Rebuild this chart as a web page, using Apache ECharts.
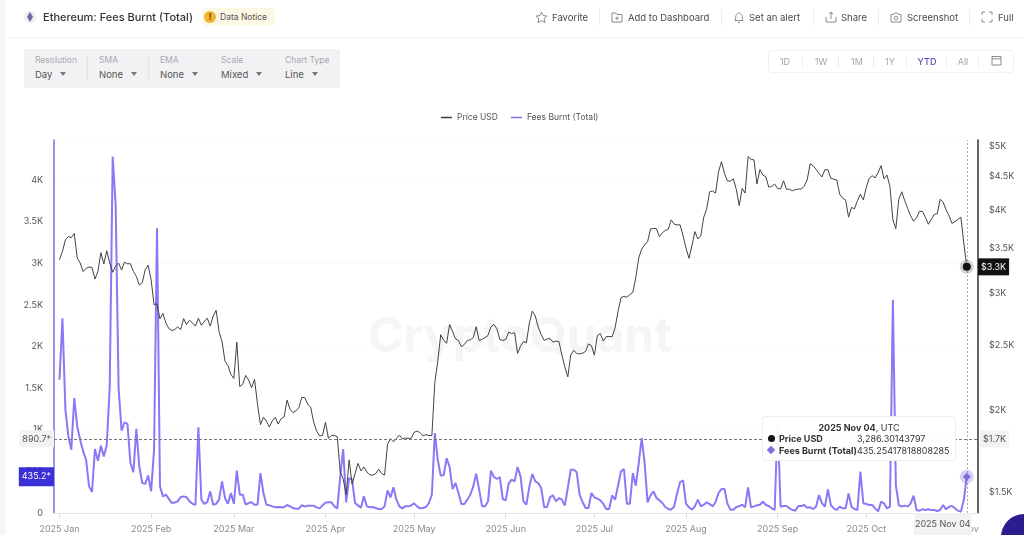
<!DOCTYPE html>
<html>
<head>
<meta charset="utf-8">
<title>Ethereum: Fees Burnt (Total)</title>
<script src="https://cdn.jsdelivr.net/npm/echarts@6/dist/echarts.min.js"></script>
<style>
html, body { margin: 0; padding: 0; background: #fff; overflow: hidden; }
body { width: 1024px; height: 535px; position: relative; font-family: Inter, sans-serif; color: #444; }
#chart { position: absolute; left: 0; top: 0; width: 1024px; height: 535px; }
.abs { position: absolute; white-space: nowrap; }
.hd { top: 11px; font-size: 9.5px; line-height: 13px; color: #4a4a4a; }
.sep { position: absolute; width: 1px; background: #ececf0; }
.lbl { top: 55px; font-size: 8.5px; line-height: 11px; color: #a9a9ae; }
.val { top: 68px; font-size: 9.5px; line-height: 13px; color: #555; }
.caret { position: absolute; top: 72px; width: 0; height: 0; border-left: 3.5px solid transparent; border-right: 3.5px solid transparent; border-top: 4px solid #777; }
.rng { top: 56px; width: 30px; text-align: center; font-size: 9px; line-height: 11px; color: #a5a5aa; }
svg.ic { position: absolute; fill: none; stroke: #8a8a8f; stroke-width: 1; }
</style>
</head>
<body>
<div id="chart"></div>

<div class="abs" style="left:0;top:0;width:6px;height:535px;background:#f6f6f8"></div>
<div class="abs" style="left:8px;top:37px;width:1016px;height:1px;background:#f1f1f3"></div>

<div class="abs" style="left:24px;top:11px;width:12px;height:12px;border-radius:6px;background:#eeeef6"></div>
<svg class="ic" style="left:27px;top:12px;stroke:none;fill:#6f6aa8" width="6" height="10" viewBox="0 0 6 10"><path d="M3 0L6 5L3 10L0 5Z"/></svg>
<div class="abs" style="left:43px;top:10px;font-size:11px;line-height:15px;font-weight:500;color:#333">Ethereum: Fees Burnt (Total)</div>
<div class="abs" style="left:202px;top:8px;width:73px;height:18px;border-radius:5px;background:#fdf7e6"></div>
<div class="abs" style="left:204px;top:11px;width:12px;height:12px;border-radius:6px;background:#f2b431;font-size:9px;line-height:12px;text-align:center;font-weight:700;color:#6b4a00">!</div>
<div class="abs" style="left:220px;top:11px;font-size:8.5px;line-height:12px;color:#555">Data Notice</div>

<svg class="ic" style="left:535px;top:11px" width="13" height="13" viewBox="0 0 13 13"><path d="M6.5 1L8.1 4.6L12 5L9.1 7.6L10 11.6L6.5 9.6L3 11.6L3.9 7.6L1 5L4.9 4.6Z"/></svg>
<div class="abs hd" style="left:552px">Favorite</div>
<div class="sep" style="left:599px;top:9px;height:16px"></div>
<svg class="ic" style="left:611px;top:12px" width="12" height="11" viewBox="0 0 12 11"><path d="M1 1H5L6 2.5H11V10H1ZM6 4.5V8M4.2 6.2H7.8"/></svg>
<div class="abs hd" style="left:628px">Add to Dashboard</div>
<div class="sep" style="left:721px;top:9px;height:16px"></div>
<svg class="ic" style="left:733px;top:11px" width="12" height="13" viewBox="0 0 12 13"><path d="M2 9.5C3 8 2.5 6 3 4.5C3.5 3 5 2 6 2C7 2 8.5 3 9 4.5C9.500 6 9 8 10 9.500ZM5 11.500H7"/></svg>
<div class="abs hd" style="left:749px">Set an alert</div>
<div class="sep" style="left:813px;top:9px;height:16px"></div>
<svg class="ic" style="left:825px;top:11px" width="12" height="12" viewBox="0 0 12 12"><path d="M1 6V11H11V6M6 8V1M4 3L6 1L8 3"/></svg>
<div class="abs hd" style="left:841px">Share</div>
<div class="sep" style="left:878px;top:9px;height:16px"></div>
<svg class="ic" style="left:890px;top:12px" width="12" height="11" viewBox="0 0 12 11"><path d="M1 2.500H3.500L4.500 1H7.500L8.500 2.500H11V10H1Z"/><circle cx="6" cy="6" r="1.800"/></svg>
<div class="abs hd" style="left:907px">Screenshot</div>
<div class="sep" style="left:969px;top:9px;height:16px"></div>
<svg class="ic" style="left:981px;top:11px" width="12" height="12" viewBox="0 0 12 12"><path d="M1 4V1H4M8 1H11V4M11 8V11H8M4 11H1V8"/></svg>
<div class="abs hd" style="left:998px">Full</div>

<div class="abs" style="left:24px;top:49px;width:316px;height:39px;background:#f2f2f5"></div>
<div class="sep" style="left:87px;top:56px;height:24px;background:#e3e3e8"></div>
<div class="sep" style="left:148px;top:56px;height:24px;background:#e3e3e8"></div>
<div class="abs lbl" style="left:35px">Resolution</div><div class="abs val" style="left:35px">Day</div><div class="caret" style="left:60px"></div>
<div class="abs lbl" style="left:99px">SMA</div><div class="abs val" style="left:99px">None</div><div class="caret" style="left:131px"></div>
<div class="abs lbl" style="left:160px">EMA</div><div class="abs val" style="left:160px">None</div><div class="caret" style="left:192px"></div>
<div class="abs lbl" style="left:221px">Scale</div><div class="abs val" style="left:221px">Mixed</div><div class="caret" style="left:256px"></div>
<div class="abs lbl" style="left:285px">Chart Type</div><div class="abs val" style="left:285px">Line</div><div class="caret" style="left:312px"></div>

<div class="abs" style="left:768px;top:50px;width:244px;height:21px;border:1px solid #f0f0f3;border-radius:4px"></div>
<div class="abs rng" style="left:770px">1D</div>
<div class="abs rng" style="left:806px">1W</div>
<div class="abs rng" style="left:842px">1M</div>
<div class="abs rng" style="left:875px">1Y</div>
<div class="abs rng" style="left:912px;color:#5b4fc4;font-weight:500">YTD</div>
<div class="abs rng" style="left:948px">All</div>
<div class="sep" style="left:802px;top:56px;height:11px"></div>
<div class="sep" style="left:838px;top:56px;height:11px"></div>
<div class="sep" style="left:873px;top:56px;height:11px"></div>
<div class="sep" style="left:906px;top:56px;height:11px"></div>
<div class="sep" style="left:946px;top:56px;height:11px"></div>
<div class="sep" style="left:978px;top:56px;height:11px"></div>
<svg class="ic" style="left:991px;top:55px" width="11" height="11" viewBox="0 0 11 11"><path d="M1 1.500H10V10H1ZM1 3.800H10"/></svg>

<div class="abs" style="left:1001px;top:514px;width:46px;height:46px;border-radius:23px;background:#2c1d8f"></div>

<script>
// Daily values, one per day starting 2025-01-01
const startDate = Date.UTC(2025, 0, 1);
const DAY = 86400000;

const priceValues = [
    3368,3467,3610,3650,3638,3690,3388,3330,3232,3268,
    3285,3278,3150,3235,3452,3320,3475,3330,3225,3295,
    3330,3250,3340,3322,3322,3235,3180,3085,3108,3254,
    3306,3143,2880,2890,2743,2795,2705,2652,2635,2643,
    2668,2643,2746,2690,2730,2705,2675,2750,2683,2720,
    2750,2675,2770,2826,2623,2536,2368,2332,2262,2230,
    2530,2168,2186,2254,2218,2160,2223,2040,1900,1949,
    1924,1885,1924,1949,1904,1940,1951,2069,2004,1981,
    1993,2016,2090,2086,2040,2017,1917,1858,1827,1830,
    1916,1812,1830,1830,1822,1612,1573,1490,1681,1546,
    1601,1661,1618,1640,1612,1595,1595,1603,1628,1603,
    1595,1775,1810,1790,1810,1832,1810,1813,1812,1812,
    1850,1858,1848,1827,1835,1830,1829,2200,2368,2597,
    2545,2520,2690,2627,2559,2545,2490,2510,2545,2550,
    2570,2670,2545,2555,2570,2590,2670,2690,2650,2553,
    2545,2553,2620,2606,2615,2432,2495,2535,2525,2705,
    2818,2770,2665,2597,2545,2559,2562,2530,2540,2535,
    2420,2320,2243,2420,2460,2432,2430,2435,2450,2515,
    2500,2418,2590,2606,2540,2580,2580,2580,2660,2815,
    2953,2966,2957,2985,3007,3165,3388,3495,3547,3587,
    3750,3755,3752,3650,3700,3728,3745,3869,3812,3800,
    3803,3660,3507,3385,3535,3715,3620,3660,3905,4020,
    4265,4275,4245,4570,4735,4545,4430,4425,4460,4303,
    4065,4315,4245,4820,4775,4763,4380,4605,4520,4495,
    4335,4345,4380,4315,4308,4430,4303,4303,4280,4297,
    4305,4305,4350,4444,4700,4670,4610,4545,4490,4605,
    4605,4470,4455,4444,4230,4170,4146,3905,4040,4020,
    4135,4230,4146,4330,4470,4510,4475,4560,4670,4460,
    4520,4345,3869,3752,4155,4265,4135,4025,3925,3850,
    3895,3985,3985,3905,3810,3875,3945,3950,4155,4115,
    4005,3925,3820,3845,3875,3905,3570,3286.3
];

const feeValues = [
    1600,2340,1240,920,760,1380,1040,880,740,640,
    320,252,768,628,808,680,820,1520,4280,3700,
    1500,990,1090,1070,600,490,1010,560,360,350,
    450,260,760,3420,320,200,220,170,120,125,
    140,190,200,190,140,110,100,1030,160,110,
    130,260,100,110,160,380,180,110,240,110,
    510,220,220,100,120,130,100,100,480,240,
    100,92,80,68,72,68,68,96,80,60,
    52,52,96,76,88,88,88,68,56,92,
    124,128,128,80,56,440,768,128,420,400,
    120,92,64,200,80,68,72,60,48,48,
    80,272,188,308,160,80,56,80,80,92,
    116,80,56,60,72,120,220,960,640,448,
    456,660,552,288,360,240,108,108,160,220,
    320,472,280,80,80,140,508,432,408,432,
    168,152,352,400,380,552,440,140,100,320,
    468,380,360,300,72,72,192,212,140,180,
    160,88,300,520,520,492,220,132,60,60,
    240,188,172,152,112,48,48,212,160,328,
    500,528,112,112,480,328,600,900,600,128,
    212,260,180,152,120,72,48,40,80,240,
    372,392,112,68,40,80,160,80,100,128,
    108,80,132,240,288,288,112,40,40,72,
    80,100,68,308,68,80,92,100,136,96,
    84,56,36,1100,76,84,84,56,36,28,
    84,84,96,64,68,48,76,216,116,76,
    284,96,56,36,76,56,56,236,76,48,
    36,496,116,108,96,96,56,20,136,116,
    56,76,2560,336,96,76,88,76,116,208,
    36,28,44,36,44,36,36,24,36,96,
    44,76,84,56,28,16,156,435.25
];

const monthLabels = ['2025 Jan','2025 Feb','2025 Mar','2025 Apr','2025 May','2025 Jun','2025 Jul','2025 Aug','2025 Sep','2025 Oct','2025 Nov'];
const monthDays = [0,31,59,90,120,151,181,212,243,273,304];
const feeTicks = [0,500,1000,1500,2000,2500,3000,3500,4000];
const priceTicks = [1500,2000,2500,3000,3500,4000,4500,5000];

const seriesNames = ['Price USD', 'Fees Burnt (Total)'];
const PURPLE = '#7c6ee0';
const lastDate = startDate + (priceValues.length - 1) * DAY;
const monthStamps = monthDays.map(d => startDate + d * DAY);

const toPairs = values => values.map((v, i) => [startDate + i * DAY, v]);

function kLabel(v) {
    return v >= 1000 ? (v / 1000) + 'K' : String(v);
}

const chart = echarts.init(document.getElementById('chart'), null, { renderer: 'canvas' });

const hiddenLine = { color: 'transparent', width: 0 };
const axisBox = (text, color, bg) => ({
    show: true, formatter: text, color: color, backgroundColor: bg,
    fontFamily: 'Inter', fontSize: 9, padding: [4, 3], distance: 0
});

chart.setOption({
    animation: false,
    textStyle: { fontFamily: 'Inter' },
    grid: { left: 54, right: 46, top: 140, bottom: 22 },
    legend: {
        left: 436, top: 108, itemWidth: 11, itemHeight: 1.5, itemGap: 13, icon: 'rect',
        textStyle: { fontSize: 8.5, color: '#555', fontFamily: 'Inter' },
        data: seriesNames
    },
    graphic: [{
        type: 'text', left: 368, top: 314, z: 0, silent: true,
        style: { text: 'CryptoQuant', fontFamily: 'Inter', fontWeight: 700, fontSize: 48, fill: '#f5f5f6' }
    }],
    tooltip: {
        trigger: 'axis',
        alwaysShowContent: true,
        transitionDuration: 0,
        axisPointer: { type: 'none' },
        position: [762, 416],
        padding: 0,
        borderWidth: 1,
        borderColor: '#eeeef0',
        backgroundColor: 'rgba(255,255,255,0.97)',
        extraCssText: 'box-shadow:none;border-radius:3px;',
        formatter: () =>
            '<div style="width:192px;height:43px;position:relative;font:9px/11px Inter;color:#333">' +
            '<div style="position:absolute;left:0;right:0;top:5px;text-align:center"><b>2025 Nov 04</b>, UTC</div>' +
            '<span style="position:absolute;left:5px;top:18px;width:7px;height:7px;border-radius:4px;background:#111"></span>' +
            '<b style="position:absolute;left:16px;top:16px">Price USD</b>' +
            '<span style="position:absolute;left:94px;top:16px">3,286.30143797</span>' +
            '<span style="position:absolute;left:5px;top:30px;width:6px;height:6px;background:' + PURPLE + ';transform:rotate(45deg)"></span>' +
            '<b style="position:absolute;left:16px;top:28px">Fees Burnt (Total)</b>' +
            '<span style="position:absolute;left:94px;top:28px">435.25417818808285</span>' +
            '</div>'
    },
    xAxis: {
        type: 'value',
        min: startDate - 1.86 * DAY,
        max: startDate + 310.8 * DAY,
        axisLine: { onZero: false, lineStyle: { color: '#e2e2e8', width: 1 } },
        axisTick: { show: true, length: 5, customValues: monthStamps, lineStyle: { color: '#dcdce2' } },
        splitLine: { show: false },
        axisLabel: {
            customValues: monthStamps,
            fontSize: 9, color: '#8a8a8f', margin: 12, fontFamily: 'Inter',
            hideOverlap: false,
            formatter: v => monthLabels[monthStamps.indexOf(v)] || ''
        }
    },
    yAxis: [{
        type: 'value',
        position: 'left',
        min: 0,
        max: 4480,
        axisLine: { show: true, lineStyle: { color: PURPLE, width: 1.5 } },
        axisTick: { show: false },
        splitLine: { show: true, lineStyle: { color: '#f9f9fa', width: 1 } },
        axisLabel: {
            customValues: feeTicks,
            fontSize: 9, color: '#555', margin: 11, fontFamily: 'Inter', padding: [2, 0, 0, 0],
            formatter: kLabel
        }
    }, {
        type: 'log',
        position: 'right',
        logBase: 10,
        min: 1398,
        max: 5105,
        axisLine: { show: true, onZero: false, lineStyle: { color: '#333', width: 1.5 } },
        axisTick: { show: false },
        splitLine: { show: false },
        axisLabel: {
            customValues: priceTicks,
            fontSize: 9, color: '#555', margin: 11, fontFamily: 'Inter', padding: [2, 0, 0, 0],
            formatter: v => '$' + (Math.round(v / 100) / 10) + 'K'
        }
    }],
    series: [{
        name: seriesNames[0],
        type: 'line',
        yAxisIndex: 1,
        z: 3,
        symbol: 'none',
        lineStyle: { color: '#3c3c3c', width: 1 },
        itemStyle: { color: '#3c3c3c' },
        data: toPairs(priceValues),
        markLine: {
            silent: true, symbol: ['none', 'none'],
            data: [
                { yAxis: 1808, lineStyle: hiddenLine, label: Object.assign(axisBox('$1.7K', '#555', '#f2f2f4'), { position: 'end', distance: 2 }) },
                { yAxis: 3286.3, lineStyle: hiddenLine, label: Object.assign(axisBox('$3.3K', '#fff', '#111'), { position: 'end' }) }
            ]
        },
        markPoint: {
            silent: true,
            label: { show: false },
            data: [
                { coord: [lastDate, 3286.3], symbol: 'circle', symbolSize: 14, itemStyle: { color: 'rgba(120,120,120,0.35)' } },
                { coord: [lastDate, 3286.3], symbol: 'circle', symbolSize: 8, itemStyle: { color: '#111' } }
            ]
        }
    }, {
        name: seriesNames[1],
        type: 'line',
        yAxisIndex: 0,
        z: 2,
        symbol: 'none',
        lineStyle: { color: PURPLE, width: 2 },
        itemStyle: { color: PURPLE },
        data: toPairs(feeValues),
        markLine: {
            silent: true, symbol: ['none', 'none'],
            data: [
                { yAxis: 890.7, lineStyle: { color: '#777', type: [3, 2], width: 1 }, label: Object.assign(axisBox('890.7*', '#555', '#f2f2f4'), { position: 'start' }) },
                { yAxis: 435.2, lineStyle: hiddenLine, label: Object.assign(axisBox('435.2*', '#fff', '#3b2fd6'), { position: 'start', padding: [5, 3] }) },
                { xAxis: lastDate, lineStyle: { color: '#aaa', type: [2, 2], width: 1 }, label: Object.assign(axisBox('2025 Nov 04', '#555', '#f2f2f4'), { position: 'start', offset: [-24, 0], rotate: 0, padding: [7, 1] }) }
            ]
        },
        markPoint: {
            silent: true,
            label: { show: false },
            data: [
                { coord: [lastDate, 435.25], symbol: 'circle', symbolSize: 14, itemStyle: { color: 'rgba(124,110,224,0.3)' } },
                { coord: [lastDate, 435.25], symbol: 'diamond', symbolSize: 8, itemStyle: { color: PURPLE } }
            ]
        }
    }]
});

chart.dispatchAction({ type: 'showTip', seriesIndex: 0, dataIndex: priceValues.length - 1 });
</script>
</body>
</html>
